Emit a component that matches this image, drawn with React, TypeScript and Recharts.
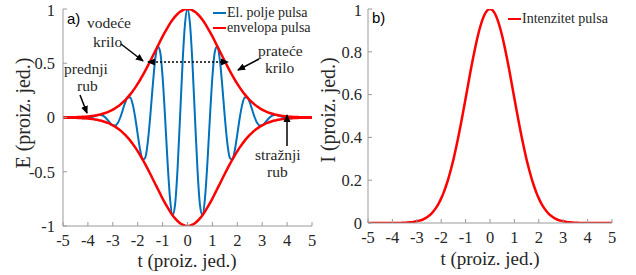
import { Legend, Line, LineChart, XAxis, YAxis } from "recharts";

// sample times, step 0.1
const tValues = [
  -5, -4.9, -4.8, -4.7, -4.6, -4.5, -4.4, -4.3, -4.2, -4.1,
  -4, -3.9, -3.8, -3.7, -3.6, -3.5, -3.4, -3.3, -3.2, -3.1,
  -3, -2.9, -2.8, -2.7, -2.6, -2.5, -2.4, -2.3, -2.2, -2.1,
  -2, -1.9, -1.8, -1.7, -1.6, -1.5, -1.4, -1.3, -1.2, -1.1,
  -1, -0.9, -0.8, -0.7, -0.6, -0.5, -0.4, -0.3, -0.2, -0.1,
  0,
  0.1, 0.2, 0.3, 0.4, 0.5, 0.6, 0.7, 0.8, 0.9, 1,
  1.1, 1.2, 1.3, 1.4, 1.5, 1.6, 1.7, 1.8, 1.9, 2,
  2.1, 2.2, 2.3, 2.4, 2.5, 2.6, 2.7, 2.8, 2.9, 3,
  3.1, 3.2, 3.3, 3.4, 3.5, 3.6, 3.7, 3.8, 3.9, 4,
  4.1, 4.2, 4.3, 4.4, 4.5, 4.6, 4.7, 4.8, 4.9, 5,
];

// El. polje pulsa
const fieldValues = [
  0, 0.001, 0.001, 0.001, 0.001, 0, -0.002, -0.004, -0.006, -0.006,
  -0.005, 0, 0.007, 0.016, 0.023, 0.024, 0.017, 0, -0.025, -0.052,
  -0.072, -0.074, -0.051, 0, 0.069, 0.139, 0.186, 0.184, 0.121, 0,
  -0.155, -0.301, -0.388, -0.372, -0.237, 0, 0.282, 0.528, 0.656, 0.608,
  0.373, 0, -0.415, -0.75, -0.9, -0.805, -0.477, 0, 0.494, 0.864,
  1,
  0.864, 0.494, 0, -0.477, -0.805, -0.9, -0.75, -0.415, 0, 0.373,
  0.608, 0.656, 0.528, 0.282, 0, -0.237, -0.372, -0.388, -0.301, -0.155,
  0, 0.121, 0.184, 0.186, 0.139, 0.069, 0, -0.051, -0.074, -0.072,
  -0.052, -0.025, 0, 0.017, 0.024, 0.023, 0.016, 0.007, 0, -0.005,
  -0.006, -0.006, -0.004, -0.002, 0, 0.001, 0.001, 0.001, 0.001, 0,
];

// envelopa pulsa (upper half)
const envelopeValues = [
  0.001, 0.001, 0.001, 0.002, 0.002, 0.003, 0.004, 0.005, 0.006, 0.007,
  0.009, 0.012, 0.015, 0.018, 0.023, 0.028, 0.034, 0.041, 0.05, 0.06,
  0.072, 0.086, 0.101, 0.119, 0.139, 0.161, 0.186, 0.213, 0.243, 0.275,
  0.311, 0.348, 0.388, 0.43, 0.473, 0.518, 0.564, 0.61, 0.656, 0.702,
  0.747, 0.789, 0.829, 0.867, 0.9, 0.93, 0.954, 0.974, 0.988, 0.997,
  1,
  0.997, 0.988, 0.974, 0.954, 0.93, 0.9, 0.867, 0.829, 0.789, 0.747,
  0.702, 0.656, 0.61, 0.564, 0.518, 0.473, 0.43, 0.388, 0.348, 0.311,
  0.275, 0.243, 0.213, 0.186, 0.161, 0.139, 0.119, 0.101, 0.086, 0.072,
  0.06, 0.05, 0.041, 0.034, 0.028, 0.023, 0.018, 0.015, 0.012, 0.009,
  0.007, 0.006, 0.005, 0.004, 0.003, 0.002, 0.002, 0.001, 0.001, 0.001,
];

// Intenzitet pulsa
const intensityValues = [
  0, 0, 0, 0, 0, 0, 0, 0, 0, 0,
  0, 0, 0, 0, 0.001, 0.001, 0.002, 0.003, 0.004, 0.006,
  0.008, 0.011, 0.014, 0.019, 0.026, 0.034, 0.044, 0.057, 0.073, 0.092,
  0.115, 0.142, 0.174, 0.21, 0.251, 0.296, 0.347, 0.401, 0.459, 0.52,
  0.582, 0.645, 0.708, 0.767, 0.823, 0.874, 0.917, 0.953, 0.979, 0.995,
  1,
  0.995, 0.979, 0.953, 0.917, 0.874, 0.823, 0.767, 0.708, 0.645, 0.582,
  0.52, 0.459, 0.401, 0.347, 0.296, 0.251, 0.21, 0.174, 0.142, 0.115,
  0.092, 0.073, 0.057, 0.044, 0.034, 0.026, 0.019, 0.014, 0.011, 0.008,
  0.006, 0.004, 0.003, 0.002, 0.001, 0.001, 0, 0, 0, 0,
  0, 0, 0, 0, 0, 0, 0, 0, 0, 0,
];

const tTicks = [-5, -4, -3, -2, -1, 0, 1, 2, 3, 4, 5];
const fieldTicks = [-1, -0.5, 0, 0.5, 1];
const intensityTicks = [0, 0.2, 0.4, 0.6, 0.8, 1];

const pulseRows = tValues.map((t, i) => ({
  t,
  field: fieldValues[i],
  upper: envelopeValues[i],
  lower: -envelopeValues[i],
  intensity: intensityValues[i],
}));

const serif = "Liberation Serif, Times New Roman, serif";
const sans = "Liberation Sans, Arial, sans-serif";
const axisColor = "#9a9a9a";
const textColor = "#262626";
const blue = "#0072BD";
const red = "#ff0000";
const tickStyle = { fill: textColor, fontSize: 16.5, fontFamily: serif };

const renderLegend = ({ payload }: any) => (
  <div style={{ fontFamily: serif, fontSize: 14, color: textColor, lineHeight: "15px", whiteSpace: "nowrap" }}>
    {(payload || [])
      .filter((item: any) => item.type !== "none")
      .map((item: any) => (
        <div key={item.value} style={{ display: "flex", alignItems: "center" }}>
          <span style={{ display: "inline-block", width: 13, height: 2, background: item.color, marginRight: 1 }} />
          {item.value}
        </div>
      ))}
  </div>
);

const Arrow = ({ x1, y1, x2, y2, both }: { x1: number; y1: number; x2: number; y2: number; both?: boolean }) => (
  <line
    x1={x1}
    y1={y1}
    x2={x2}
    y2={y2}
    stroke="#000"
    strokeWidth={1.5}
    strokeDasharray={both ? "2 2" : undefined}
    markerEnd="url(#head)"
    markerStart={both ? "url(#headStart)" : undefined}
  />
);

const Note = ({ x, y, children }: { x: number; y: number; children: string }) => (
  <text x={x} y={y} fontFamily={serif} fontSize={15.5} fill={textColor}>
    {children}
  </text>
);

export default function App() {
  return (
    <div style={{ position: "absolute", left: 0, top: 0, width: 636, height: 275, background: "#fff" }}>
      <div style={{ position: "absolute", left: 0, top: 0 }}>
        <LineChart width={330} height={275} data={pulseRows} margin={{ top: 9, right: 18, bottom: 0, left: 0 }}>
          <XAxis dataKey="t" type="number" domain={[-5, 5]} ticks={tTicks} allowDataOverflow height={49}
            stroke={axisColor} tickSize={-4} tickMargin={12} tick={tickStyle} />
          <XAxis xAxisId="top" orientation="top" type="number" domain={[-5, 5]} ticks={tTicks} allowDataOverflow
            height={0} stroke={axisColor} tickSize={-4} tick={false} />
          <YAxis yAxisId="e" type="number" domain={[-1, 1]} ticks={fieldTicks} allowDataOverflow width={63}
            stroke={axisColor} tickSize={-4} tickMargin={12} tick={tickStyle} />
          <YAxis yAxisId="box" orientation="right" type="number" domain={[-1, 1]} ticks={fieldTicks} allowDataOverflow
            width={0} stroke={axisColor} tickSize={-4} tick={false} />
          <Line yAxisId="e" dataKey="field" name="El. polje pulsa" type="monotone" stroke={blue} strokeWidth={2}
            dot={false} isAnimationActive={false} />
          <Line yAxisId="e" dataKey="upper" name="envelopa pulsa" type="monotone" stroke={red} strokeWidth={2.5}
            dot={false} isAnimationActive={false} />
          <Line yAxisId="e" dataKey="lower" name="envelopa" legendType="none" type="monotone" stroke={red}
            strokeWidth={2.5} dot={false} isAnimationActive={false} />
          <Legend layout="horizontal" verticalAlign="middle" align="center" content={renderLegend}
            wrapperStyle={{ left: 213, top: 5, width: "auto", height: "auto" }} />
        </LineChart>
      </div>
      <div style={{ position: "absolute", left: 330, top: 0 }}>
        <LineChart width={306} height={275} data={pulseRows} margin={{ top: 9, right: 24, bottom: 0, left: 0 }}>
          <XAxis dataKey="t" type="number" domain={[-5, 5]} ticks={tTicks} allowDataOverflow height={52}
            stroke={axisColor} tickSize={-4} tickMargin={12} tick={tickStyle} />
          <XAxis xAxisId="top" orientation="top" type="number" domain={[-5, 5]} ticks={tTicks} allowDataOverflow
            height={0} stroke={axisColor} tickSize={-4} tick={false} />
          <YAxis yAxisId="i" type="number" domain={[0, 1]} ticks={intensityTicks} allowDataOverflow width={38}
            stroke={axisColor} tickSize={-4} tickMargin={10} tick={tickStyle} />
          <YAxis yAxisId="box" orientation="right" type="number" domain={[0, 1]} ticks={intensityTicks} allowDataOverflow
            width={0} stroke={axisColor} tickSize={-4} tick={false} />
          <Line yAxisId="i" dataKey="intensity" name="Intenzitet pulsa" type="monotone" stroke={red} strokeWidth={2.5}
            dot={false} isAnimationActive={false} />
          <Legend layout="horizontal" verticalAlign="middle" align="center" content={renderLegend}
            wrapperStyle={{ left: 178, top: 11, width: "auto", height: "auto" }} />
        </LineChart>
      </div>
      <svg width={636} height={275} style={{ position: "absolute", left: 0, top: 0, pointerEvents: "none" }}>
        <defs>
          <marker id="head" markerWidth={8} markerHeight={8} refX={7} refY={4} orient="auto" markerUnits="userSpaceOnUse">
            <path d="M0,0.5 L8,4 L0,7.5 Z" fill="#000" />
          </marker>
          <marker id="headStart" markerWidth={8} markerHeight={8} refX={1} refY={4} orient="auto" markerUnits="userSpaceOnUse">
            <path d="M8,0.5 L0,4 L8,7.5 Z" fill="#000" />
          </marker>
        </defs>
        <text x={187} y={267} textAnchor="middle" fontFamily={serif} fontSize={19} fill={textColor}>t (proiz. jed.)</text>
        <text x={490} y={265} textAnchor="middle" fontFamily={serif} fontSize={19} fill={textColor}>t (proiz. jed.)</text>
        <text x={30} y={113} transform="rotate(-90 30 113)" textAnchor="middle" fontFamily={serif} fontSize={20} fill={textColor}>E (proiz. jed.)</text>
        <text x={335} y={110} transform="rotate(-90 335 110)" textAnchor="middle" fontFamily={serif} fontSize={20} fill={textColor}>I (proiz. jed.)</text>
        <text x={67} y={24} fontFamily={sans} fontSize={15} fill="#000">a)</text>
        <text x={372} y={23} fontFamily={sans} fontSize={15} fill="#000">b)</text>
        <Note x={87} y={28}>vodeće</Note>
        <Note x={93} y={47}>krilo</Note>
        <Note x={64} y={74}>prednji</Note>
        <Note x={77} y={91}>rub</Note>
        <Note x={258} y={56}>prateće</Note>
        <Note x={265} y={73}>krilo</Note>
        <Note x={255} y={160}>stražnji</Note>
        <Note x={267} y={177}>rub</Note>
        <Arrow x1={121} y1={44} x2={143} y2={61} />
        <Arrow x1={80} y1={95} x2={87} y2={113} />
        <Arrow x1={259} y1={59} x2={238} y2={70} />
        <Arrow x1={287} y1={146} x2={287} y2={115} />
        <Arrow x1={148} y1={62} x2={228} y2={62} both />
      </svg>
    </div>
  );
}
